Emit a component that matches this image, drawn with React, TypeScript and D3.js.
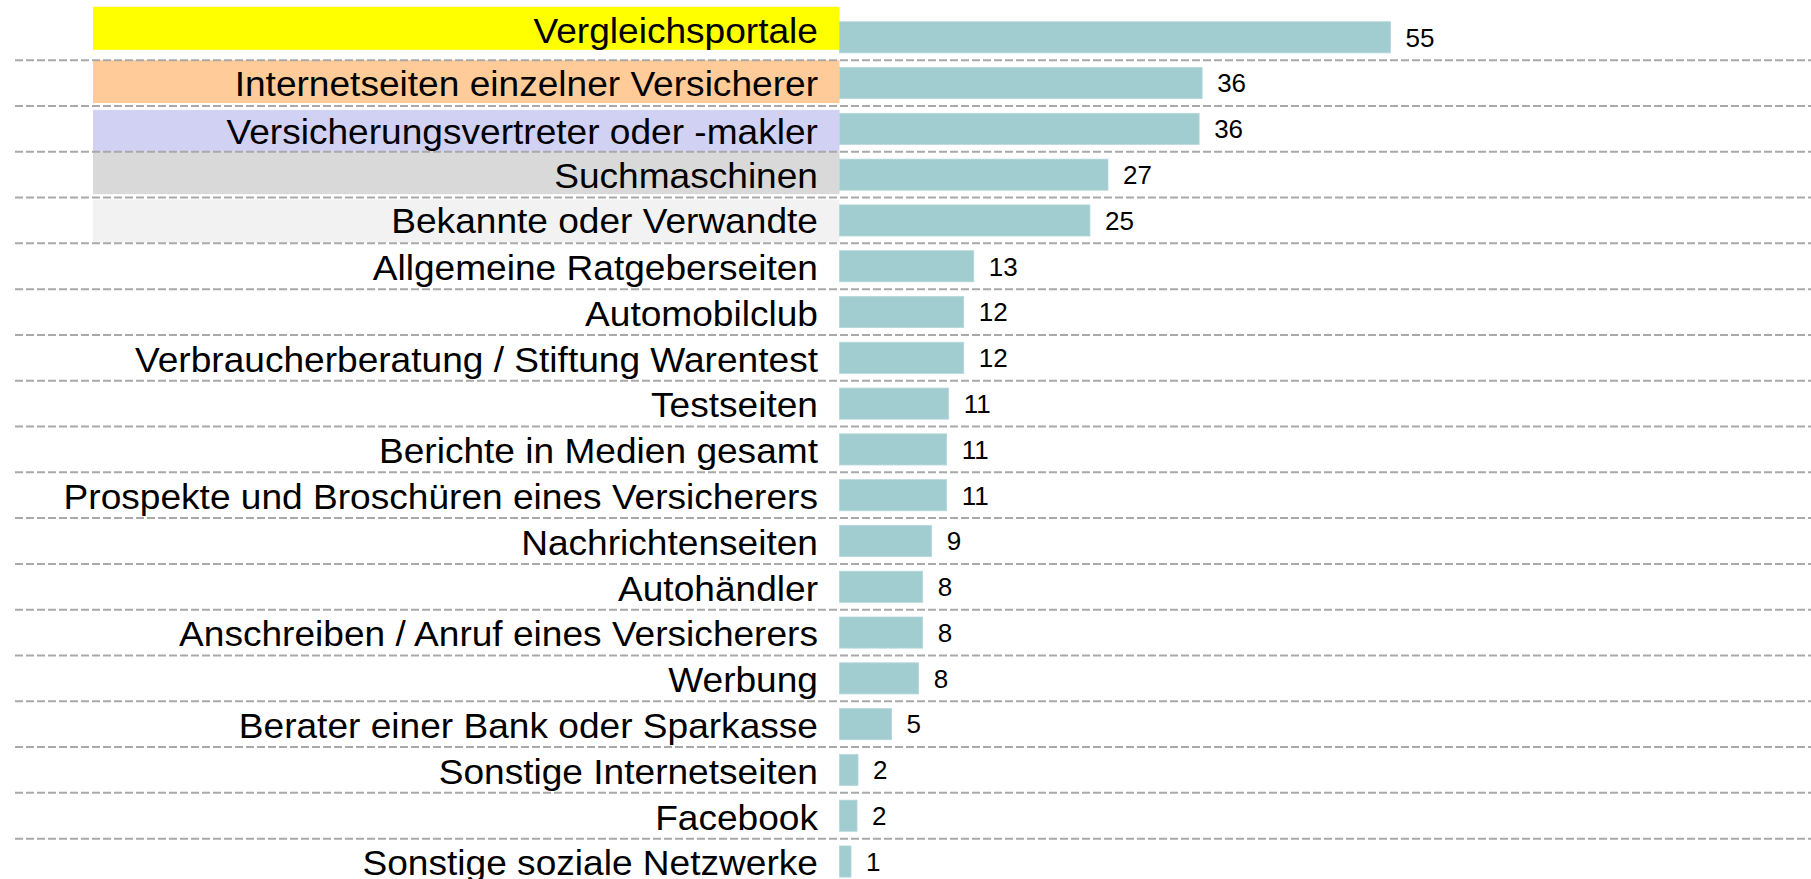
import { useEffect, useRef } from 'react';
import { scaleBand, scaleLinear, select, range } from 'd3';

// Categories (top to bottom) and values in percent
const categories = [
  'Vergleichsportale',
  'Internetseiten einzelner Versicherer',
  'Versicherungsvertreter oder -makler',
  'Suchmaschinen',
  'Bekannte oder Verwandte',
  'Allgemeine Ratgeberseiten',
  'Automobilclub',
  'Verbraucherberatung / Stiftung Warentest',
  'Testseiten',
  'Berichte in Medien gesamt',
  'Prospekte und Broschüren eines Versicherers',
  'Nachrichtenseiten',
  'Autohändler',
  'Anschreiben / Anruf eines Versicherers',
  'Werbung',
  'Berater einer Bank oder Sparkasse',
  'Sonstige Internetseiten',
  'Facebook',
  'Sonstige soziale Netzwerke',
];

const values = [
  55.0, 36.2, 35.9, 26.8, 25.0, 13.4, 12.4, 12.4, 10.9, 10.7,
  10.7, 9.2, 8.3, 8.3, 7.9, 5.2, 1.85, 1.75, 1.15,
];

const valueLabels = values.map((v) => String(Math.round(v)));

// Highlight boxes behind the first five labels
const highlightFills = ['#ffff00', '#ffcc99', '#d1d1f3', '#d9d9d9', '#f2f2f2'];
// box top / height / text shift, relative to the row centre
const highlightGeom = [
  { top: -30.5, h: 43, textDy: -8 },
  { top: -23, h: 43, textDy: -0.5 },
  { top: -19, h: 42, textDy: 1.5 },
  { top: -23, h: 42.5, textDy: 0 },
  { top: -21, h: 43, textDy: -1 },
];

const WIDTH = 1811;
const HEIGHT = 879;
const FONT = '"Liberation Sans", Arial, Helvetica, sans-serif';
const STRETCH = 1.06; // labels are rendered slightly wide in the original

export default function App() {
  const svgRef = useRef<SVGSVGElement>(null);

  useEffect(() => {
    if (!svgRef.current) return;
    const svg = select(svgRef.current);
    svg.selectAll('*').remove();

    const x0 = 839.5;
    const step = 45.79;
    const yTop = 37.3 - step / 2;

    const y = scaleBand<string>()
      .domain(categories)
      .range([yTop, yTop + step * categories.length])
      .paddingInner(0.32)
      .paddingOuter(0.16);

    const x = scaleLinear().domain([0, 55]).range([x0, x0 + 551]);

    const center = (c: string) => (y(c) ?? 0) + y.bandwidth() / 2;

    // Highlight boxes
    highlightFills.forEach((fill, i) => {
      const g = highlightGeom[i];
      svg.append('rect')
        .attr('x', 93)
        .attr('y', center(categories[i]) + g.top)
        .attr('width', x0 - 93)
        .attr('height', g.h)
        .attr('fill', fill);
    });

    // Dashed separators between rows
    range(1, categories.length).forEach((k) => {
      const yy = yTop + k * y.step();
      svg.append('line')
        .attr('x1', 15)
        .attr('x2', WIDTH)
        .attr('y1', yy)
        .attr('y2', yy)
        .attr('stroke', '#a9a9a9')
        .attr('stroke-width', 2)
        .attr('stroke-dasharray', '8 3');
    });

    // Bars
    svg.append('g')
      .selectAll('rect')
      .data(values)
      .join('rect')
      .attr('x', x(0))
      .attr('y', (_, i) => y(categories[i]) ?? 0)
      .attr('width', (d) => x(d) - x(0))
      .attr('height', y.bandwidth())
      .attr('fill', '#a2cdd0')
      .attr('stroke', '#b5d8da')
      .attr('stroke-width', 0.8);

    // Category labels
    svg.append('g')
      .attr('transform', `scale(${STRETCH},1)`)
      .selectAll('text')
      .data(categories)
      .join('text')
      .attr('x', 818 / STRETCH)
      .attr('y', (c, i) => center(c) + 13.8 + (highlightGeom[i]?.textDy ?? 0))
      .attr('text-anchor', 'end')
      .attr('font-family', FONT)
      .attr('font-size', 35)
      .attr('fill', '#000')
      .text((c) => c);

    // Value labels
    svg.append('g')
      .selectAll('text')
      .data(values)
      .join('text')
      .attr('x', (d) => x(d) + 15)
      .attr('y', (_, i) => center(categories[i]) + 9.3)
      .attr('font-family', FONT)
      .attr('font-size', 26)
      .attr('fill', '#000')
      .text((_, i) => valueLabels[i]);
  }, []);

  return (
    <svg
      ref={svgRef}
      width={WIDTH}
      height={HEIGHT}
      style={{ position: 'absolute', left: 0, top: 0, background: '#fff' }}
    />
  );
}
